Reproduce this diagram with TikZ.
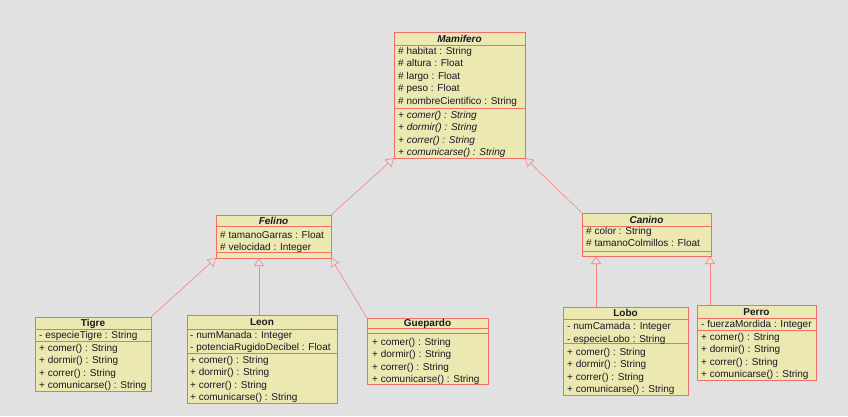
\documentclass[tikz,border=0pt]{standalone}
\usepackage{fontspec}
\setmainfont{Liberation Sans}
\usetikzlibrary{arrows.meta,calc}
\definecolor{bg}{RGB}{225,225,225}
\definecolor{boxfill}{RGB}{235,232,178}
\definecolor{boxline}{RGB}{240,110,105}
\definecolor{conn}{RGB}{250,130,130}
\definecolor{txtc}{RGB}{25,25,35}
\newcommand\umlLines[5]{\foreach \t [count=\i] in {#5} {\node[txt,#4] (#1\i) at (#2,{#3+12.6*(\i-1)+3.6}) {\t};}}
\begin{document}
\begin{tikzpicture}[x=1pt,y=-1pt,
  cls/.style={draw=boxline, fill=boxfill, line width=0.8pt, inner sep=0pt, outer sep=0pt, anchor=north west},
  txt/.style={anchor=base west, inner sep=0pt, text=txtc, font=\fontsize{10}{12}\selectfont},
  ttl/.style={anchor=base, inner sep=0pt, text=txtc, font=\fontsize{10}{12}\selectfont\bfseries},
  sep/.style={draw=boxline, line width=0.8pt},
  gen/.style={draw=conn, line width=0.6pt, -{Triangle[open,length=8pt,width=10pt]}}]
\fill[bg] (0,0) rectangle (848,416);

% Mamifero
\node[cls, minimum width=131pt, minimum height=126pt] (mam) at (394,32) {};
\draw[sep] (mam.west |- 0,45) -- (mam.east |- 0,45);
\draw[sep] (mam.west |- 0,108) -- (mam.east |- 0,108);
\node[ttl, font=\fontsize{10}{12}\selectfont\bfseries\itshape] (mamT) at (459.5,42.6) {Mamifero};
\umlLines{mamA}{398}{50.5}{}{\# habitat : String, \# altura : Float, \# largo : Float, \# peso : Float, \# nombreCientifico : String}
\umlLines{mamO}{398}{114.5}{font=\fontsize{10}{12}\selectfont\itshape}{+ comer() : String, + dormir() : String, + correr() : String, + comunicarse() : String}

% Felino
\node[cls, minimum width=115pt, minimum height=43pt] (fel) at (216,215) {};
\draw[sep] (fel.west |- 0,226) -- (fel.east |- 0,226);
\draw[sep] (fel.west |- 0,252) -- (fel.east |- 0,252);
\node[ttl, font=\fontsize{10}{12}\selectfont\bfseries\itshape] (felT) at (273.5,224) {Felino};
\umlLines{felA}{220}{234.5}{}{\# tamanoGarras : Float, \# velocidad : Integer}

% Canino
\node[cls, minimum width=129pt, minimum height=43pt] (can) at (582,213) {};
\draw[sep] (can.west |- 0,226) -- (can.east |- 0,226);
\draw[sep] (can.west |- 0,251) -- (can.east |- 0,251);
\node[ttl, font=\fontsize{10}{12}\selectfont\bfseries\itshape] (canT) at (646.5,223) {Canino};
\umlLines{canA}{586}{230.5}{}{\# color : String, \# tamanoColmillos : Float}

% Tigre
\node[cls, minimum width=116pt, minimum height=74pt] (tig) at (35,317) {};
\draw[sep] (tig.west |- 0,329) -- (tig.east |- 0,329);
\draw[sep] (tig.west |- 0,341) -- (tig.east |- 0,341);
\node[ttl] (tigT) at (93,326.6) {Tigre};
\umlLines{tigA}{39}{335}{}{- especieTigre : String}
\umlLines{tigO}{39}{347.5}{}{+ comer() : String, + dormir() : String, + correr() : String, + comunicarse() : String}

% Leon
\node[cls, minimum width=150pt, minimum height=88pt] (leon) at (187,315) {};
\draw[sep] (leon.west |- 0,329) -- (leon.east |- 0,329);
\draw[sep] (leon.west |- 0,353) -- (leon.east |- 0,353);
\node[ttl] (leonT) at (262,325.6) {Leon};
\umlLines{leonA}{190}{334.5}{}{- numManada : Integer, - potenciaRugidoDecibel : Float}
\umlLines{leonO}{190}{359.5}{}{+ comer() : String, + dormir() : String, + correr() : String, + comunicarse() : String}

% Guepardo
\node[cls, minimum width=121pt, minimum height=66pt] (gue) at (367,318) {};
\draw[sep] (gue.west |- 0,328) -- (gue.east |- 0,328);
\draw[sep] (gue.west |- 0,333) -- (gue.east |- 0,333);
\node[ttl] (gueT) at (427.5,326.6) {Guepardo};
\umlLines{gueO}{372}{341.5}{}{+ comer() : String, + dormir() : String, + correr() : String, + comunicarse() : String}

% Lobo
\node[cls, minimum width=125pt, minimum height=88pt] (lobo) at (563,307) {};
\draw[sep] (lobo.west |- 0,319) -- (lobo.east |- 0,319);
\draw[sep] (lobo.west |- 0,343) -- (lobo.east |- 0,343);
\node[ttl] (loboT) at (625.5,316.6) {Lobo};
\umlLines{loboA}{567}{326}{}{- numCamada : Integer, - especieLobo : String}
\umlLines{loboO}{567}{351.5}{}{+ comer() : String, + dormir() : String, + correr() : String, + comunicarse() : String}

% Perro
\node[cls, minimum width=119pt, minimum height=75pt] (perro) at (697,305) {};
\draw[sep] (perro.west |- 0,318) -- (perro.east |- 0,318);
\draw[sep] (perro.west |- 0,330) -- (perro.east |- 0,330);
\node[ttl] (perroT) at (756.5,315.6) {Perro};
\umlLines{perroA}{701}{324}{}{- fuerzaMordida : Integer}
\umlLines{perroO}{701}{336.5}{}{+ comer() : String, + dormir() : String, + correr() : String, + comunicarse() : String}

% Generalizations
\coordinate (leonTop) at ([xshift=72pt]leon.north west);
\coordinate (loboTop) at ([xshift=33pt]lobo.north west);
\coordinate (perroTop) at ([xshift=13pt]perro.north west);
\draw[gen] (fel.north east) -- (mam.south west);
\draw[gen] (can.north west) -- (mam.south east);
\draw[gen] (tig.north east) -- (fel.south west);
\draw[gen] (leonTop) -- (leonTop |- fel.south);
\draw[gen] (gue.north west) -- (fel.south east);
\draw[gen] (loboTop) -- (loboTop |- can.south);
\draw[gen] (perroTop) -- (perroTop |- can.south);
\end{tikzpicture}
\end{document}
